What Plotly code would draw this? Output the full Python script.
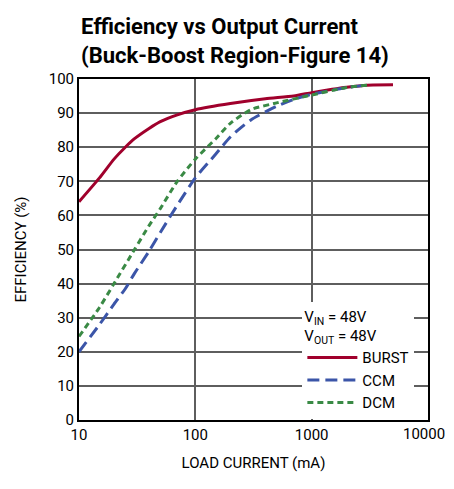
import plotly.graph_objects as go

burst_x = [10, 15, 20, 25, 30, 40, 50, 70, 100, 200, 400, 700, 1000, 1500, 2000, 3000, 5000]
burst_y = [64, 71, 76.5, 80, 82.5, 85.5, 87.5, 89.5, 91, 92.8, 94.2, 95, 96, 97, 97.6, 98.2, 98.3]

ccm_x = [10, 15, 20, 25, 30, 40, 50, 70, 100, 150, 200, 300, 500, 700, 1000, 2000, 3000]
ccm_y = [20, 28, 34, 38.5, 43, 49.5, 55, 63, 71, 78, 83, 88, 92, 94, 95.5, 97.5, 98.2]

dcm_x = [10, 15, 20, 30, 40, 50, 70, 100, 150, 200, 300, 500, 1000, 2000, 3000]
dcm_y = [24.5, 33, 40, 50, 57, 62, 70, 76.5, 82.5, 87, 91, 93, 95.3, 97.5, 98.2]

x_ticks = [10, 100, 1000, 10000]
x_labels = ["10", "100", "1000", "10000"]
y_ticks = list(range(0, 101, 10))

FONT = "Roboto, Liberation Sans, Arial, sans-serif"

W, H = 438, 473
L, R, T, B = 69, 18, 71, 53

fig = go.Figure()
fig.add_trace(go.Scatter(x=burst_x, y=burst_y, mode="lines", name="BURST",
                         line=dict(color="#a0002c", width=3, shape="spline", smoothing=0.6)))
fig.add_trace(go.Scatter(x=ccm_x, y=ccm_y, mode="lines", name="CCM",
                         line=dict(color="#3b55a8", width=3, dash="12px,6px", shape="spline", smoothing=0.6)))
fig.add_trace(go.Scatter(x=dcm_x, y=dcm_y, mode="lines", name="DCM",
                         line=dict(color="#3a8a45", width=3, dash="6px,4px", shape="spline", smoothing=0.6)))

fig.add_annotation(text="<b>Efficiency vs Output Current<br>(Buck-Boost Region-Figure 14)</b>",
                   xref="paper", yref="paper", x=0, xanchor="left",
                   y=1 + (T - 2) / (H - T - B), yanchor="top", showarrow=False,
                   align="left", font=dict(family=FONT, size=22, color="black"))

# last x tick label (would be auto-hidden at the figure edge)
fig.add_annotation(text=x_labels[-1], xref="x", yref="paper", x=4, y=0,
                   xanchor="center", yanchor="top", xshift=-4, yshift=-3,
                   showarrow=False, font=dict(family=FONT, size=15, color="black"))

fig.update_layout(
    width=W, height=H,
    margin=dict(l=L, r=R, t=T, b=B),
    paper_bgcolor="white", plot_bgcolor="white",
    font=dict(family=FONT, size=15, color="black"),
    showlegend=True,
    legend=dict(x=0.64, xanchor="left", y=0.345, yanchor="top",
                bgcolor="white", borderwidth=0, itemwidth=50,
                tracegroupgap=0,
                font=dict(family=FONT, size=15, color="black"),
                title=dict(text="V<sub>IN</sub> = 48V<br>V<sub>OUT</sub> = 48V",
                           font=dict(family=FONT, size=15, color="black"))),
    xaxis=dict(type="log", range=[1, 4], tickvals=x_ticks[:-1], ticktext=x_labels[:-1],
               showgrid=True, gridcolor="#5e5e5e", gridwidth=1.5,
               showline=True, linecolor="black", linewidth=2, mirror=True,
               ticks="", zeroline=False,
               title=dict(text="LOAD CURRENT (mA)", font=dict(family=FONT, size=15), standoff=14)),
    yaxis=dict(range=[0, 100], tickvals=y_ticks,
               showgrid=True, gridcolor="#5e5e5e", gridwidth=1.5,
               showline=True, linecolor="black", linewidth=2, mirror=True,
               ticks="", zeroline=False,
               title=dict(text="EFFICIENCY (%)", font=dict(family=FONT, size=15), standoff=18)),
)

fig.write_html("out.html", config={"displayModeBar": False})
